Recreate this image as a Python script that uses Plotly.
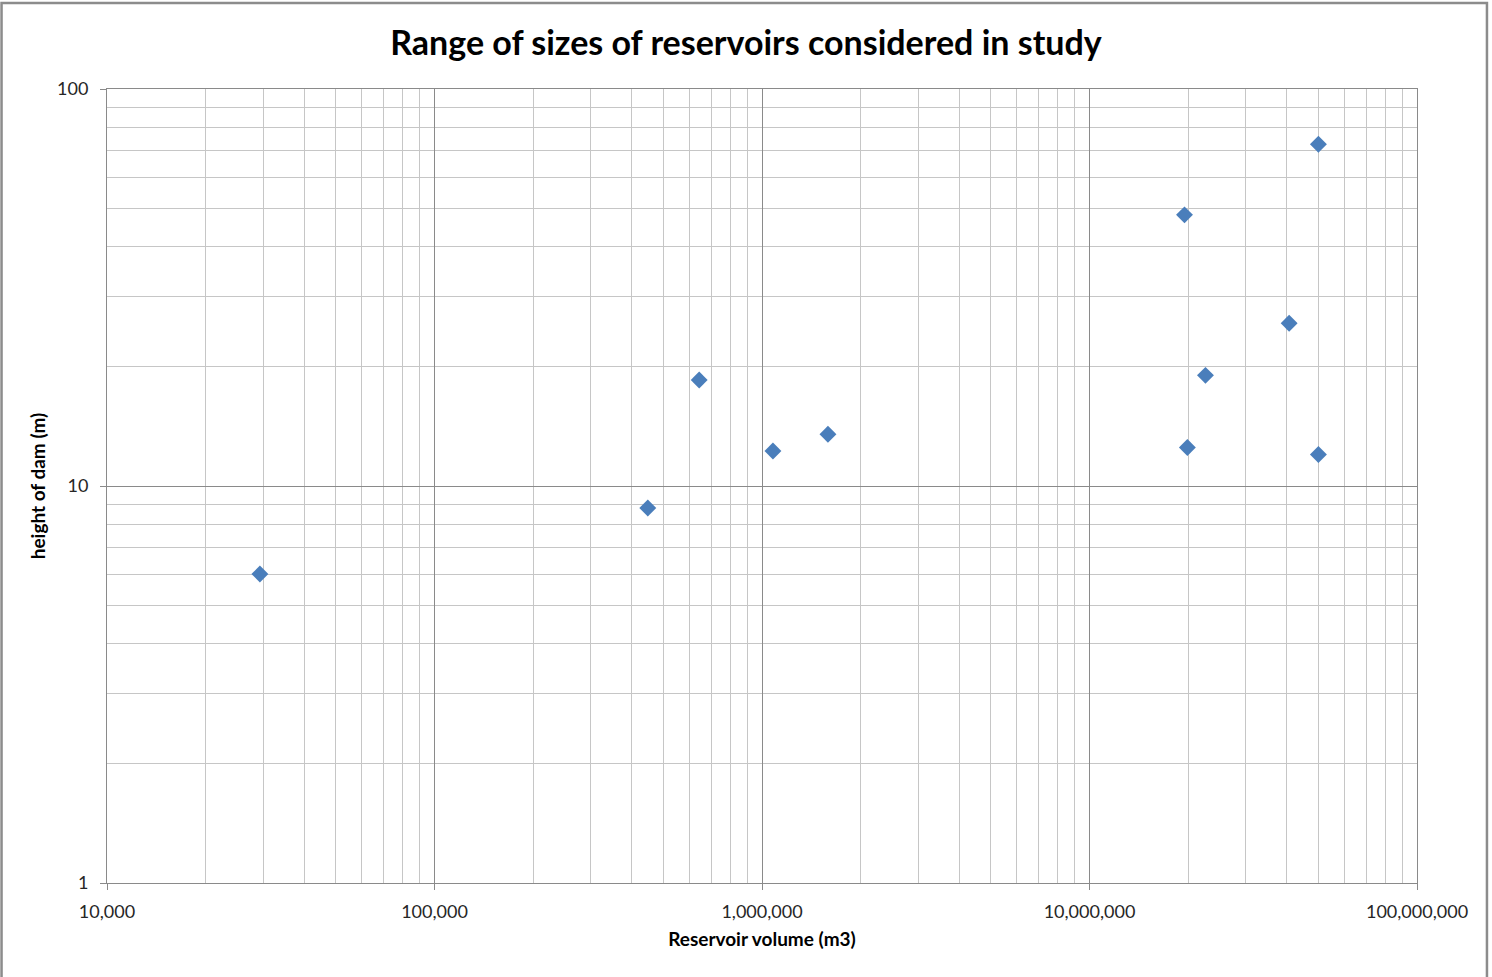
import plotly.graph_objects as go

# Reservoir volume (m3) and dam height (m) for each reservoir in the study
volume_m3 = [29300, 448000, 643000, 1080000, 1590000,
             19500000, 19900000, 22600000, 40700000, 50000000, 50000000]
dam_height_m = [6.0, 8.8, 18.5, 12.25, 13.5,
                48.2, 12.5, 19.0, 25.7, 72.6, 12.0]

x_tickvals = [1e4, 1e5, 1e6, 1e7, 1e8]
x_ticktext = ["10,000", "100,000", "1,000,000", "10,000,000", "100,000,000"]
y_tickvals = [1, 10, 100]
y_ticktext = ["1", "10", "100"]

FONT = "Lato, Open Sans, sans-serif"
MAJOR = "#8a8a8a"
MINOR = "#c6c6c6"

fig = go.Figure(
    go.Scatter(
        x=volume_m3,
        y=dam_height_m,
        mode="markers",
        marker=dict(symbol="diamond", size=13, color="#4a7ebb",
                    line=dict(width=0)),
        showlegend=False,
    )
)

axis_common = dict(
    type="log",
    showgrid=True,
    gridcolor=MAJOR,
    gridwidth=1,
    showline=True,
    linecolor=MAJOR,
    linewidth=1,
    mirror=True,
    ticks="outside",
    ticklen=6,
    tickcolor=MAJOR,
    tickfont=dict(family=FONT, size=18, color="#262626"),
    zeroline=False,
    minor=dict(dtick="D1", showgrid=True, gridcolor=MINOR, gridwidth=1,
               ticks=""),
)

fig.update_xaxes(
    **axis_common,
    range=[4, 8],
    tickvals=x_tickvals,
    ticktext=x_ticktext,
    ticklabelstandoff=6,
    title=dict(text="<b>Reservoir volume (m3)</b>",
               font=dict(family=FONT, size=19, color="#000000"),
               standoff=12),
)
fig.update_yaxes(
    **axis_common,
    range=[0, 2],
    tickvals=y_tickvals,
    ticktext=y_ticktext,
    ticklabelstandoff=8,
    title=dict(text="<b>height of dam (m)</b>",
               font=dict(family=FONT, size=19, color="#000000"),
               standoff=6),
)

# Grey frame on the left, top and right of the chart area
fig.add_shape(type="path", xref="paper", yref="paper",
              path="M -0.0805 -0.2 L -0.0805 1.1083 L 1.0534 1.1083 L 1.0534 -0.2",
              line=dict(color="#8c8c8c", width=2.5), layer="below")

fig.update_layout(
    width=1492,
    height=977,
    margin=dict(l=107, r=75, t=89, b=94),
    paper_bgcolor="white",
    plot_bgcolor="white",
    title=dict(text="<b>Range of sizes of reservoirs considered in study</b>",
               x=0.5, xref="container", y=0.956, yanchor="middle",
               font=dict(family=FONT, size=34, color="#000000")),
)

fig.write_html("out.html")
